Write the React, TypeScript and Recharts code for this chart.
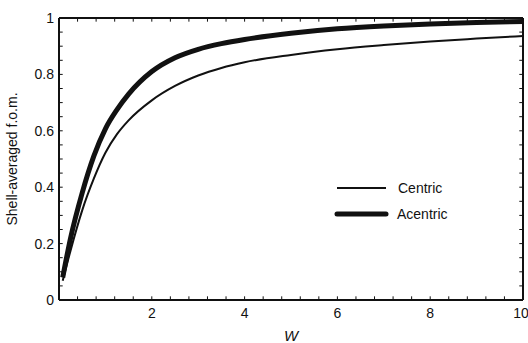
import React from 'react';
import { LineChart, Line, XAxis, YAxis, ReferenceLine } from 'recharts';

const wValues = [0.08, 0.25, 0.5, 0.75, 1, 1.25, 1.5, 2, 2.5, 3, 3.5, 4, 5, 6, 7, 8, 9, 10];
const centric = [0.068, 0.176, 0.318, 0.43, 0.522, 0.588, 0.637, 0.708, 0.759, 0.796, 0.823, 0.843, 0.869, 0.889, 0.904, 0.917, 0.927, 0.936];
const acentric = [0.08, 0.22, 0.38, 0.51, 0.607, 0.675, 0.73, 0.81, 0.859, 0.889, 0.909, 0.924, 0.946, 0.962, 0.972, 0.979, 0.984, 0.988];

const xTicks = [2, 4, 6, 8, 10];
const yTicks = [0, 0.2, 0.4, 0.6, 0.8, 1];
const xMinorTicks = Array.from({ length: 24 }, (_, i) => +(0.4 * (i + 1)).toFixed(2));
const yMinorTicks = Array.from({ length: 19 }, (_, i) => +(0.05 * (i + 1)).toFixed(2));

const data = wValues.map((w, i) => ({ w, centric: centric[i], acentric: acentric[i] }));

const FONT = '"Liberation Sans", Arial, sans-serif';
const XT = 0.08; // tick length in x units
const YT = 0.013; // tick length in y units

const LegendBox = () => (
  <svg width={130} height={50} style={{ position: 'absolute', left: 335, top: 177, overflow: 'visible' }}>
    <line x1={2} y1={11} x2={51} y2={11} stroke="#111" strokeWidth={2} />
    <text x={63} y={16} fontFamily={FONT} fontSize={14} fill="#111">Centric</text>
    <line x1={2} y1={37} x2={51} y2={37} stroke="#111" strokeWidth={5} strokeLinecap="round" />
    <text x={62} y={42} fontFamily={FONT} fontSize={14} fill="#111">Acentric</text>
  </svg>
);

export default function App() {
  return (
    <div style={{ position: 'absolute', left: 0, top: 0, width: 528, height: 343, background: '#fff' }}>
      <LineChart width={528} height={343} data={data} margin={{ top: 18, right: 5, bottom: 0, left: 0 }}>
        <XAxis
          dataKey="w"
          type="number"
          domain={[0, 10]}
          ticks={xTicks}
          tickLine={false}
          axisLine={{ stroke: '#111', strokeWidth: 2 }}
          tick={{ fill: '#111', fontSize: 14, fontFamily: FONT }}
          height={43}
          allowDataOverflow
          label={{ value: 'W', position: 'insideBottom', offset: 2, fill: '#111', fontSize: 15, fontFamily: FONT, fontStyle: 'italic' }}
        />
        <YAxis
          type="number"
          domain={[0, 1]}
          ticks={yTicks}
          tickLine={false}
          tickMargin={-1}
          axisLine={{ stroke: '#111', strokeWidth: 2 }}
          tick={{ fill: '#111', fontSize: 14, fontFamily: FONT }}
          tickFormatter={(v: number) => String(v)}
          width={59}
          allowDataOverflow
          label={{ value: 'Shell-averaged f.o.m.', angle: -90, position: 'insideLeft', offset: 12, style: { textAnchor: 'middle' }, fill: '#111', fontSize: 14, fontFamily: FONT }}
        />
        <ReferenceLine y={1} stroke="#111" strokeWidth={2} ifOverflow="visible" />
        <ReferenceLine x={10} stroke="#111" strokeWidth={2} ifOverflow="visible" />
        {xMinorTicks.map((t) => (
          <ReferenceLine key={'xb' + t} segment={[{ x: t, y: 0 }, { x: t, y: YT }]} stroke="#111" strokeWidth={1} ifOverflow="visible" />
        ))}
        {xMinorTicks.map((t) => (
          <ReferenceLine key={'xt' + t} segment={[{ x: t, y: 1 }, { x: t, y: 1 - YT }]} stroke="#111" strokeWidth={1} ifOverflow="visible" />
        ))}
        {yMinorTicks.map((t) => (
          <ReferenceLine key={'yl' + t} segment={[{ x: 0, y: t }, { x: XT, y: t }]} stroke="#111" strokeWidth={1} ifOverflow="visible" />
        ))}
        {yMinorTicks.map((t) => (
          <ReferenceLine key={'yr' + t} segment={[{ x: 10, y: t }, { x: 10 - XT, y: t }]} stroke="#111" strokeWidth={1} ifOverflow="visible" />
        ))}
        <Line type="monotone" dataKey="centric" stroke="#111" strokeWidth={2} dot={false} isAnimationActive={false} />
        <Line type="monotone" dataKey="acentric" stroke="#111" strokeWidth={5} dot={false} isAnimationActive={false} />
      </LineChart>
      <LegendBox />
    </div>
  );
}
